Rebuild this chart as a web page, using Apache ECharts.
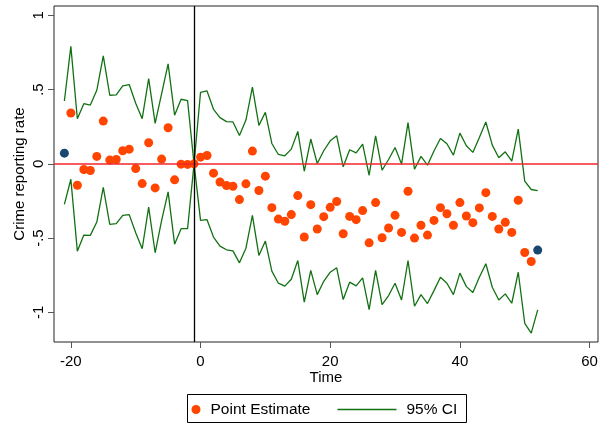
<!DOCTYPE html>
<html>
<head>
<meta charset="utf-8">
<script src="https://cdn.jsdelivr.net/npm/echarts@6/dist/echarts.min.js"></script>
<style>
  html, body { margin: 0; padding: 0; background: #fff; }
  #eventStudy { width: 605px; height: 424px; }
</style>
</head>
<body>
<div id="eventStudy"></div>
<script>
// time periods for the CI lines (event time)
const ciTime = [-21, -20, -19, -18, -17, -16, -15, -14, -13, -12, -11, -10, -9, -8, -7, -6, -5, -4, -3, -2, -1,
  0, 1, 2, 3, 4, 5, 6, 7, 8, 9, 10, 11, 12, 13, 14, 15, 16, 17, 18, 19, 20, 21, 22, 23, 24, 25, 26, 27, 28, 29,
  30, 31, 32, 33, 34, 35, 36, 37, 38, 39, 40, 41, 42, 43, 44, 45, 46, 47, 48, 49, 50, 51, 52];
const ciUpper = [0.423, 0.791, 0.304, 0.405, 0.396, 0.495, 0.727, 0.462, 0.464, 0.525, 0.534, 0.408, 0.304, 0.574, 0.273, 0.473, 0.673, 0.327, 0.435, 0.426, 0,
  0.482, 0.491, 0.367, 0.311, 0.284, 0.282, 0.191, 0.295, 0.516, 0.259, 0.347, 0.137, 0.063, 0.054, 0.099, 0.218, -0.050, 0.167, 0.002, 0.088,
  0.155, 0.189, -0.020, 0.095, 0.074, 0.133, -0.077, 0.189, -0.043, 0.029, 0.110, -0.002, 0.277, -0.036, 0.050, -0.009, 0.086, 0.171, 0.135, 0.059,
  0.207, 0.122, 0.077, 0.178, 0.282, 0.126, 0.041, 0.081, 0.018, 0.234, -0.117, -0.173, -0.180];
const ciLower = [-0.273, -0.104, -0.588, -0.480, -0.482, -0.392, -0.158, -0.408, -0.403, -0.347, -0.342, -0.464, -0.572, -0.291, -0.599, -0.381, -0.189, -0.541, -0.437, -0.437, 0,
  -0.381, -0.376, -0.493, -0.554, -0.579, -0.586, -0.667, -0.568, -0.347, -0.617, -0.520, -0.723, -0.804, -0.824, -0.777, -0.651, -0.932, -0.718, -0.881, -0.791,
  -0.730, -0.700, -0.914, -0.797, -0.822, -0.768, -0.982, -0.718, -0.948, -0.887, -0.804, -0.917, -0.651, -0.959, -0.881, -0.941, -0.854, -0.764, -0.804, -0.881,
  -0.736, -0.827, -0.867, -0.764, -0.673, -0.831, -0.917, -0.876, -0.939, -0.730, -1.074, -1.140, -0.984];

// point estimates (orange)
const estTime = [-20, -19, -18, -17, -16, -15, -14, -13, -12, -11, -10, -9, -8, -7, -6, -5, -4, -3, -2, -1,
  0, 1, 2, 3, 4, 5, 6, 7, 8, 9, 10, 11, 12, 13, 14, 15, 16, 17, 18, 19, 20, 21, 22, 23, 24, 25, 26, 27, 28, 29,
  30, 31, 32, 33, 34, 35, 36, 37, 38, 39, 40, 41, 42, 43, 44, 45, 46, 47, 48, 49, 50, 51];
const estValue = [0.342, -0.144, -0.038, -0.045, 0.050, 0.288, 0.025, 0.029, 0.088, 0.099, -0.032, -0.133, 0.142, -0.162, 0.032, 0.243, -0.108, -0.002, -0.004, 0,
  0.045, 0.056, -0.063, -0.122, -0.146, -0.151, -0.241, -0.135, 0.086, -0.180, -0.083, -0.295, -0.372, -0.387, -0.342, -0.214, -0.493, -0.275, -0.439, -0.356,
  -0.293, -0.254, -0.471, -0.354, -0.376, -0.315, -0.532, -0.261, -0.498, -0.432, -0.347, -0.462, -0.185, -0.500, -0.414, -0.480, -0.381, -0.295, -0.336, -0.414,
  -0.261, -0.351, -0.396, -0.297, -0.194, -0.354, -0.439, -0.394, -0.462, -0.245, -0.597, -0.658];

// binned endpoints (navy)
const endTime = [-21, 52];
const endValue = [0.072, -0.581];

const xTicks = [-20, 0, 20, 40, 60];
const yTicks = [-1, -0.5, 0, 0.5, 1];
const yTickLabels = ['-1', '-.5', '0', '.5', '1'];

const FONT = 'Liberation Sans, Arial, sans-serif';

function zip(xs, ys) {
  return xs.map((x, i) => [x, ys[i]]);
}

let chartDom = document.getElementById('eventStudy');
let myChart = echarts.init(chartDom, null, { renderer: 'canvas' });
var option;
option = {
  backgroundColor: '#fff',
  animation: false,
  grid: {
    left: 54,
    right: 7,
    top: 6,
    bottom: 82,
    show: true,
    borderColor: '#222',
    borderWidth: 1,
    backgroundColor: '#fff',
  },
  xAxis: {
    type: 'value',
    min: -22.6,
    max: 61.3,
    name: 'Time',
    nameLocation: 'middle',
    nameGap: 28,
    nameMoveOverlap: false,
    nameTextStyle: { fontFamily: FONT, fontSize: 15, color: '#000' },
    axisLine: { show: false, onZero: false },
    splitLine: { show: false },
    axisTick: { show: true, length: 6, customValues: xTicks, lineStyle: { color: '#555' } },
    axisLabel: { customValues: xTicks, margin: 12, fontFamily: FONT, fontSize: 15, color: '#000' },
  },
  yAxis: {
    type: 'value',
    min: -1.2,
    max: 1.063,
    name: 'Crime reporting rate',
    nameLocation: 'middle',
    nameGap: 27,
    nameMoveOverlap: false,
    nameTextStyle: { fontFamily: FONT, fontSize: 15, color: '#000' },
    axisLine: { show: false, onZero: false },
    splitLine: { show: false },
    axisTick: { show: true, length: 6, customValues: yTicks, lineStyle: { color: '#555' } },
    axisLabel: {
      customValues: yTicks,
      rotate: 90,
      margin: 8,
      fontFamily: FONT,
      fontSize: 15,
      color: '#000',
      formatter: (v) => yTickLabels[yTicks.indexOf(v)],
    },
  },
  legend: [
    {
      data: [{ name: 'Point Estimate', icon: 'circle' }],
      left: 191.5,
      top: 401.5,
      padding: 0,
      itemWidth: 9,
      itemHeight: 9,
      selectedMode: false,
      z: 5,
      textStyle: { fontFamily: FONT, fontSize: 15.5, color: '#000', padding: [0, 0, 0, 5] },
    },
    {
      data: [{ name: '95% CI', icon: 'rect' }],
      left: 337.5,
      top: 401.5,
      padding: 0,
      itemWidth: 59,
      itemHeight: 1.5,
      selectedMode: false,
      z: 5,
      textStyle: { fontFamily: FONT, fontSize: 15.5, color: '#000', padding: [0, 0, 0, 5] },
    },
  ],
  graphic: [
    {
      type: 'rect',
      z: 1,
      shape: { x: 187.5, y: 394.5, width: 279, height: 28 },
      style: { fill: '#fff', stroke: '#000', lineWidth: 1 },
    },
  ],
  series: [
    {
      name: '95% CI',
      type: 'line',
      data: zip(ciTime, ciUpper),
      symbol: 'none',
      z: 2,
      color: '#127112',
      lineStyle: { color: '#127112', width: 1.3 },
      markLine: {
        silent: true,
        symbol: 'none',
        label: { show: false },
        data: [
          { yAxis: 0, lineStyle: { color: '#f0262b', width: 1.5, type: 'solid' } },
          { xAxis: -1, lineStyle: { color: '#000', width: 1.3, type: 'solid' } },
        ],
      },
    },
    {
      name: '95% CI',
      type: 'line',
      data: zip(ciTime, ciLower),
      symbol: 'none',
      z: 2,
      color: '#127112',
      lineStyle: { color: '#127112', width: 1.3 },
    },
    {
      name: 'Point Estimate',
      type: 'scatter',
      data: zip(estTime, estValue),
      symbol: 'circle',
      symbolSize: 9,
      z: 3,
      itemStyle: { color: '#ff4500', opacity: 1 },
    },
    {
      name: 'endpoints',
      type: 'scatter',
      data: zip(endTime, endValue),
      symbol: 'circle',
      symbolSize: 9,
      z: 3,
      itemStyle: { color: '#1a476f', opacity: 1 },
    },
  ],
};

option && myChart.setOption(option);
</script>
</body>
</html>
